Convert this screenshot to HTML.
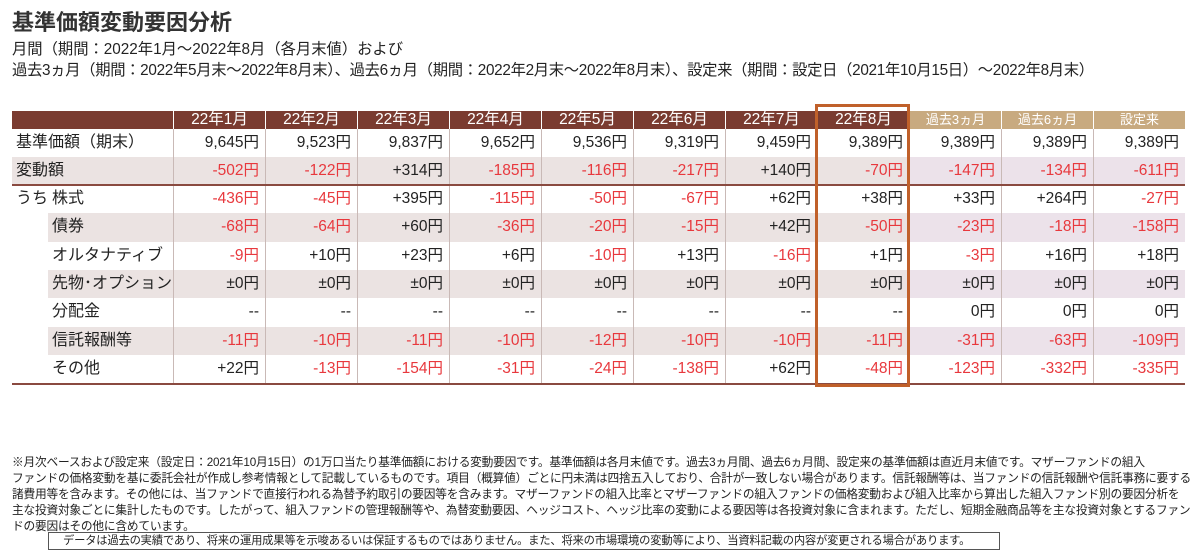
<!DOCTYPE html>
<html><head><meta charset="utf-8">
<style>
body{margin:0;width:1200px;height:552px;background:#fff;position:relative;overflow:hidden;font-family:"Liberation Sans","Noto Sans CJK JP",sans-serif;color:#222}
.a{position:absolute;white-space:nowrap}
.c{position:absolute;box-sizing:border-box;font-size:15.5px;line-height:28px;text-align:right;padding-right:6px}
.red{color:#e8383d}
.fn{font-size:11.7px;line-height:16px;color:#222;letter-spacing:-0.2px}
</style></head><body>
<div class="a" style="left:12px;top:5px;font-size:22px;font-weight:bold;color:#333">基準価額変動要因分析</div>
<div class="a" style="left:12px;top:37px;font-size:15.3px">月間（期間：2022年1月～2022年8月（各月末値）および</div>
<div class="a" style="left:12px;top:58px;font-size:15.3px;letter-spacing:-0.3px">過去3ヵ月（期間：2022年5月末～2022年8月末）、過去6ヵ月（期間：2022年2月末～2022年8月末）、設定来（期間：設定日（2021年10月15日）～2022年8月末）</div>
<div id="tbl"></div>
<div class="a fn" style="left:12px;top:455px">※月次ベースおよび設定来（設定日：2021年10月15日）の1万口当たり基準価額における変動要因です。基準価額は各月末値です。過去3ヵ月間、過去6ヵ月間、設定来の基準価額は直近月末値です。マザーファンドの組入<br>ファンドの価格変動を基に委託会社が作成し参考情報として記載しているものです。項目（概算値）ごとに円未満は四捨五入しており、合計が一致しない場合があります。信託報酬等は、当ファンドの信託報酬や信託事務に要する<br>諸費用等を含みます。その他には、当ファンドで直接行われる為替予約取引の要因等を含みます。マザーファンドの組入比率とマザーファンドの組入ファンドの価格変動および組入比率から算出した組入ファンド別の要因分析を<br>主な投資対象ごとに集計したものです。したがって、組入ファンドの管理報酬等や、為替変動要因、ヘッジコスト、ヘッジ比率の変動による要因等は各投資対象に含まれます。ただし、短期金融商品等を主な投資対象とするファン<br>ドの要因はその他に含めています。</div>
<div class="a fn" style="left:48px;top:532px;width:952px;height:18px;border:1px solid #555;box-sizing:border-box;line-height:16px;padding-left:14px;font-size:11.3px">データは過去の実績であり、将来の運用成果等を示唆あるいは保証するものではありません。また、将来の市場環境の変動等により、当資料記載の内容が変更される場合があります。</div>
<script>
const columns=["22年1月","22年2月","22年3月","22年4月","22年5月","22年6月","22年7月","22年8月","過去3ヵ月","過去6ヵ月","設定来"];
const rowLabels=["基準価額（期末）","変動額","株式","債券","オルタナティブ","先物･オプション","分配金","信託報酬等","その他"];
const navRow=["9,645円","9,523円","9,837円","9,652円","9,536円","9,319円","9,459円","9,389円","9,389円","9,389円","9,389円"];
const changeRow=["-502円","-122円","+314円","-185円","-116円","-217円","+140円","-70円","-147円","-134円","-611円"];
const equityRow=["-436円","-45円","+395円","-115円","-50円","-67円","+62円","+38円","+33円","+264円","-27円"];
const bondRow=["-68円","-64円","+60円","-36円","-20円","-15円","+42円","-50円","-23円","-18円","-158円"];
const altRow=["-9円","+10円","+23円","+6円","-10円","+13円","-16円","+1円","-3円","+16円","+18円"];
const futRow=["±0円","±0円","±0円","±0円","±0円","±0円","±0円","±0円","±0円","±0円","±0円"];
const distRow=["--","--","--","--","--","--","--","--","0円","0円","0円"];
const feeRow=["-11円","-10円","-11円","-10円","-12円","-10円","-10円","-11円","-31円","-63円","-109円"];
const otherRow=["+22円","-13円","-154円","-31円","-24円","-138円","+62円","-48円","-123円","-332円","-335円"];
const rows=[navRow,changeRow,equityRow,bondRow,altRow,futRow,distRow,feeRow,otherRow];
const T=document.getElementById('tbl');
const X0=12,LW=161,CW=92,HT=111,HH=18,RT=128.5,RH=28.3;
function mk(cls,style,txt){const d=document.createElement('div');d.className=cls;d.style.cssText=style;if(txt!=null)d.textContent=txt;T.appendChild(d);return d;}
let h=mk('a',`left:${X0}px;top:${HT}px;width:${LW}px;height:${HH}px;background:#7a3b30`);


columns.forEach((c,i)=>{const past=i>=8;const d=mk('a',`left:${X0+LW+i*CW+1}px;top:${HT}px;width:${CW-1}px;height:${HH}px;background:${past?'#c8aa80':'#7a3b30'};color:#fff;text-align:center;font-size:${past?13:15.5}px;line-height:${HH}px`,c);

});
rows.forEach((r,ri)=>{const y=RT+ri*RH;const shade=ri%2===1;const sub=ri>=3;
const lx=sub?48:X0;
if(shade){const b=mk('a',`left:${lx}px;top:${y}px;width:${X0+LW+8*CW-lx}px;height:${RH}px;background:#ebe3e2`);

}
const pb=mk('a',`left:${X0+LW+8*CW}px;top:${y}px;width:${3*CW}px;height:${RH}px;background:${shade?'#ece2ea':'#fff'}`);


const lab=mk('a',`left:${ri>=2?52:16}px;top:${y}px;height:${RH}px;line-height:${RH}px;font-size:16px`,rowLabels[ri]);


r.forEach((v,ci)=>{const neg=v.charAt(0)==='-'&&v!=='--';const d=mk('c'+(neg?' red':''),`left:${X0+LW+ci*CW}px;top:${y}px;width:${CW}px;height:${RH}px;line-height:${RH}px`,v);

});});
const uc=mk('a',`left:16px;top:${RT+2*RH}px;line-height:${RH}px;font-size:16px`,'うち');


for(let i=0;i<=10;i++){const v=mk('a',`left:${X0+LW+i*CW}px;top:${RT}px;width:1px;height:${9*RH}px;background:#c9b9b6`);

}
const l1=mk('a',`left:${X0}px;top:${RT+2*RH-1}px;width:${LW+11*CW}px;height:2px;background:#8a4a40`);


const l2=mk('a',`left:${X0}px;top:${RT+9*RH}px;width:${LW+11*CW}px;height:2px;background:#8a4a40`);


const hl=mk('a',`left:${X0+LW+7*CW-2}px;top:104px;width:${CW+3}px;height:${RT+9*RH-100}px;border:3px solid #c0602a;box-sizing:border-box`);


</script>
</body></html>
